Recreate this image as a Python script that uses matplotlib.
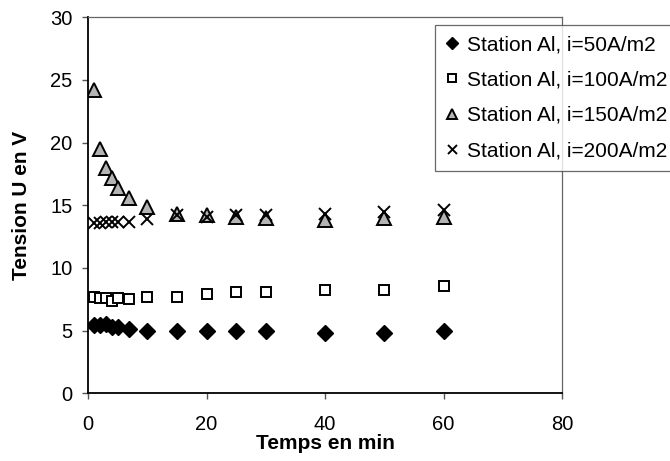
import matplotlib.pyplot as plt
import numpy as np

plt.rcParams['font.family'] = ['Liberation Sans', 'DejaVu Sans']

# temps en min
t = [1, 2, 3, 4, 5, 7, 10, 15, 20, 25, 30, 40, 50, 60]

u50 = [5.45, 5.45, 5.5, 5.3, 5.3, 5.1, 4.97, 5.0, 5.0, 5.0, 5.0, 4.8, 4.8, 5.0]
u100 = [7.7, 7.58, 7.58, 7.4, 7.58, 7.5, 7.7, 7.7, 7.9, 8.05, 8.05, 8.25, 8.25, 8.6]
u150 = [24.2, 19.5, 18.0, 17.2, 16.4, 15.6, 14.9, 14.3, 14.2, 14.1, 14.0, 13.8, 14.0, 14.1]
u200 = [13.6, 13.6, 13.7, 13.7, 13.7, 13.7, 13.9, 14.2, 14.1, 14.2, 14.2, 14.3, 14.5, 14.6]

labels = ['Station Al, i=50A/m2', 'Station Al, i=100A/m2',
          'Station Al, i=150A/m2', 'Station Al, i=200A/m2']

fig = plt.figure(figsize=(6.7, 4.61), dpi=100)
ax = fig.add_axes([88/670, 1-393.3/461, (562-88)/670, (393.3-17.3)/461])

ax.plot(t, u50, 'D', ms=8, color='black', mec='black', label=labels[0])
ax.plot(t, u100, 's', ms=7.5, mfc='white', mec='black', mew=1.4, label=labels[1])
ax.plot(t, u150, '^', ms=9.5, mfc='#b4b4b4', mec='black', mew=1.4, label=labels[2])
ax.plot(t, u200, 'x', ms=9, color='black', mew=1.4, label=labels[3])

ax.set_xlim(0, 80)
ax.set_ylim(0, 30)
ax.set_xticks(np.arange(0, 81, 20))
ax.set_yticks(np.arange(0, 31, 5))
ax.tick_params(direction='out', length=4.5, width=1, labelsize=14.5, color='#555555')
ax.tick_params(axis='x', pad=11)
ax.tick_params(axis='y', pad=6.5)

for s in ['left', 'bottom']:
    ax.spines[s].set_linewidth(1.3)
    ax.spines[s].set_color('black')
for s in ['top', 'right']:
    ax.spines[s].set_linewidth(0.9)
    ax.spines[s].set_color('#666666')

ax.set_xlabel('Temps en min', fontsize=15, fontweight='bold', labelpad=0)
ax.set_ylabel('Tension U en V', fontsize=15, fontweight='bold', labelpad=14)

leg = fig.legend(loc='upper left', bbox_to_anchor=(435/670, 1-25/461),
                 fontsize=15, frameon=True, fancybox=False, edgecolor='#444444',
                 handlelength=0.6, handletextpad=0.45, labelspacing=0.78,
                 borderpad=0.5, borderaxespad=0, markerscale=0.72)
leg.get_frame().set_linewidth(0.9)

fig.savefig('out.png', dpi=100)
